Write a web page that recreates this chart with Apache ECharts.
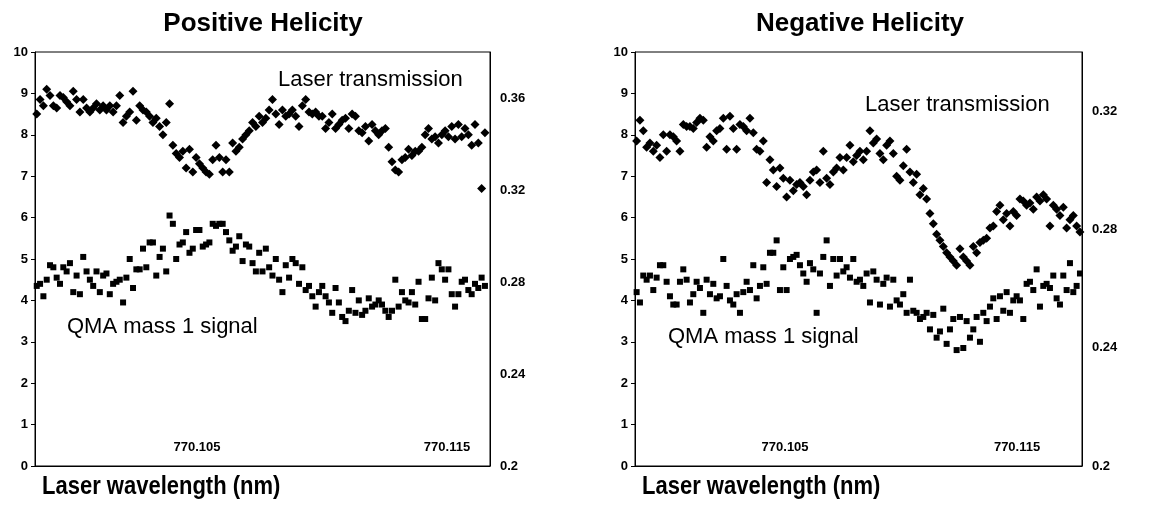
<!DOCTYPE html>
<html>
<head>
<meta charset="utf-8">
<script src="https://cdn.jsdelivr.net/npm/echarts@6/dist/echarts.min.js"></script>
<style>
  html, body { margin: 0; padding: 0; background: #fff; }
  #chart { width: 1168px; height: 505px; }
</style>
</head>
<body>
<div id="chart"></div>
<script>
// Wavelength scans (nm): first point and step of each scan
const posScanStart = 770.09859;
const posScanStep = 0.0001328;
const negScanStart = 770.09860;
const negScanStep = 0.0001437;

// Positive helicity: laser transmission (diamonds) and QMA mass 1 signal (squares)
const posLaser = [
  8.50, 8.85, 8.70, 9.10, 8.95, 8.70, 8.65, 8.95, 8.90, 8.80,
  8.70, 9.05, 8.85, 8.55, 8.85, 8.65, 8.55, 8.65, 8.75, 8.60,
  8.70, 8.60, 8.70, 8.55, 8.70, 8.95, 8.30, 8.45, 8.55, 9.05,
  8.35, 8.70, 8.60, 8.55, 8.45, 8.30, 8.40, 8.20, 8.00, 8.30,
  8.75, 7.75, 7.55, 7.45, 7.60, 7.20, 7.65, 7.10, 7.45, 7.30,
  7.20, 7.10, 7.05, 7.40, 7.75, 7.45, 7.10, 7.40, 7.10, 7.80,
  7.60, 7.70, 7.90, 8.00, 8.10, 8.30, 8.20, 8.45, 8.30, 8.40,
  8.60, 8.85, 8.50, 8.25, 8.60, 8.45, 8.50, 8.60, 8.45, 8.20,
  8.70, 8.85, 8.55, 8.50, 8.55, 8.45, 8.45, 8.15, 8.30, 8.50,
  8.15, 8.25, 8.35, 8.40, 8.15, 8.50, 8.45, 8.10, 8.05, 8.20,
  7.85, 8.25, 8.10, 8.00, 8.10, 8.15, 7.70, 7.35, 7.15, 7.10,
  7.40, 7.45, 7.65, 7.50, 7.60, 7.60, 7.70, 8.00, 8.15, 7.90,
  7.95, 7.80, 8.00, 8.10, 7.95, 8.20, 7.90, 8.25, 7.95, 8.15,
  8.00, 7.75, 8.25, 7.80, 6.70, 8.05
];
const posQMA = [
  4.35, 4.40, 4.10, 4.50, 4.85, 4.80, 4.55, 4.40, 4.80, 4.70,
  4.90, 4.20, 4.60, 4.15, 5.05, 4.70, 4.50, 4.35, 4.70, 4.20,
  4.60, 4.65, 4.15, 4.40, 4.45, 4.50, 3.95, 4.55, 5.00, 4.30,
  4.75, 4.75, 5.25, 4.80, 5.40, 5.40, 4.60, 5.05, 5.25, 4.70,
  6.05, 5.85, 5.00, 5.35, 5.40, 5.65, 5.15, 5.25, 5.70, 5.70,
  5.30, 5.35, 5.40, 5.85, 5.80, 5.85, 5.85, 5.65, 5.45, 5.20,
  5.30, 5.55, 4.95, 5.35, 5.30, 4.90, 4.70, 5.15, 4.70, 5.25,
  4.80, 4.60, 5.00, 4.50, 4.20, 4.85, 4.55, 5.00, 4.90, 4.40,
  4.80, 4.25, 4.35, 4.10, 3.85, 4.20, 4.35, 4.10, 3.95, 3.70,
  4.30, 3.95, 3.60, 3.50, 3.75, 4.25, 3.70, 4.00, 3.65, 3.75,
  4.05, 3.85, 3.90, 4.00, 3.90, 3.75, 3.60, 3.75, 4.50, 3.85,
  4.20, 4.00, 3.95, 4.20, 3.90, 4.45, 3.55, 3.55, 4.05, 4.55,
  4.00, 4.90, 4.75, 4.50, 4.75, 4.15, 3.85, 4.15, 4.45, 4.50,
  4.25, 4.15, 4.40, 4.30, 4.55, 4.35
];

// Negative helicity
const negLaser = [
  7.85, 8.35, 8.10, 7.70, 7.80, 7.60, 7.75, 7.45, 8.00, 7.60,
  8.00, 7.95, 7.85, 7.60, 8.25, 8.20, 8.20, 8.15, 8.30, 8.40,
  8.35, 7.70, 7.95, 7.85, 8.10, 8.15, 8.40, 7.65, 8.45, 8.15,
  7.65, 8.25, 8.20, 8.10, 8.40, 8.05, 7.65, 7.60, 7.85, 6.85,
  7.40, 7.15, 6.75, 7.20, 6.95, 6.50, 6.90, 6.65, 6.80, 6.85,
  6.75, 6.55, 6.90, 7.10, 7.15, 6.85, 7.60, 6.95, 6.80, 7.10,
  7.20, 7.45, 7.15, 7.45, 7.75, 7.35, 7.50, 7.60, 7.40, 7.60,
  8.10, 7.80, 7.90, 7.55, 7.40, 7.75, 7.85, 7.55, 7.00, 6.90,
  7.25, 7.65, 7.10, 6.85, 7.05, 6.55, 6.70, 6.45, 6.10, 5.85,
  5.60, 5.45, 5.30, 5.15, 5.05, 4.95, 4.85, 5.25, 5.05, 4.95,
  4.85, 5.30, 5.15, 5.40, 5.45, 5.50, 5.75, 5.80, 6.15, 6.30,
  5.95, 6.10, 5.80, 6.15, 6.05, 6.45, 6.40, 6.30, 6.35, 6.20,
  6.50, 6.40, 6.55, 6.45, 5.80, 6.30, 6.20, 6.05, 6.25, 5.75,
  5.95, 6.05, 5.80, 5.65
];
const negQMA = [
  4.20, 3.95, 4.60, 4.50, 4.60, 4.25, 4.55, 4.85, 4.85, 4.45,
  4.10, 3.90, 3.90, 4.45, 4.75, 4.50, 3.95, 4.15, 4.45, 4.30,
  3.70, 4.50, 4.15, 4.40, 4.05, 4.10, 5.00, 4.35, 4.00, 3.90,
  4.15, 3.70, 4.20, 4.45, 4.25, 4.85, 4.05, 4.35, 4.80, 4.40,
  5.15, 5.15, 5.45, 4.25, 4.80, 4.25, 5.00, 5.05, 5.10, 4.85,
  4.65, 4.45, 4.90, 4.75, 3.70, 4.65, 5.05, 5.45, 4.35, 5.00,
  4.60, 5.00, 4.70, 4.80, 4.55, 5.00, 4.45, 4.50, 4.35, 4.65,
  3.95, 4.70, 4.50, 3.90, 4.40, 4.55, 3.85, 4.50, 4.00, 3.90,
  4.15, 3.70, 4.50, 3.75, 3.70, 3.55, 3.60, 3.70, 3.30, 3.65,
  3.10, 3.25, 3.80, 2.95, 3.30, 3.55, 2.80, 3.60, 2.85, 3.50,
  3.10, 3.30, 3.60, 3.00, 3.70, 3.50, 3.85, 4.05, 3.55, 4.10,
  3.75, 4.20, 3.70, 4.00, 4.10, 4.00, 3.55, 4.40, 4.45, 4.25,
  4.75, 3.85, 4.35, 4.40, 4.30, 4.60, 4.05, 3.90, 4.60, 4.25,
  4.90, 4.20, 4.35, 4.65
];

// Tick labels
const wavelengthTicks = [770.105, 770.115];
const posRightTicks = [0.2, 0.24, 0.28, 0.32, 0.36];
const negRightTicks = [0.2, 0.24, 0.28, 0.32];

const FONT = '"Liberation Sans", Arial, Helvetica, sans-serif';
const INK = '#000';

function pairs(start, step, values) {
  return values.map((v, i) => [start + i * step, v]);
}

const tickLabelStyle = { color: INK, fontFamily: FONT, fontSize: 13, fontWeight: 'bold' };

function xAxisFor(grid, min, max) {
  return {
    gridIndex: grid, type: 'value', min: min, max: max,
    axisLine: { show: true, onZero: false, lineStyle: { color: INK, width: 1 } },
    axisTick: { show: false },
    splitLine: { show: false },
    axisLabel: Object.assign({
      inside: true, margin: 12,
      customValues: wavelengthTicks,
      formatter: v => v.toFixed(3)
    }, tickLabelStyle)
  };
}

function leftAxisFor(grid) {
  return {
    gridIndex: grid, type: 'value', min: 0, max: 10, interval: 1,
    axisLine: { show: true, lineStyle: { color: INK, width: 1 } },
    axisTick: { show: true, length: 4, lineStyle: { color: INK } },
    splitLine: { show: false },
    axisLabel: Object.assign({ margin: 7 }, tickLabelStyle)
  };
}

function rightAxisFor(grid, max, ticks) {
  return {
    gridIndex: grid, type: 'value', position: 'right', min: 0.2, max: max,
    axisLine: { show: true, lineStyle: { color: INK, width: 1 } },
    axisTick: { show: false },
    splitLine: { show: false },
    axisLabel: Object.assign({
      margin: 10, customValues: ticks,
      formatter: v => String(+v.toFixed(2))
    }, tickLabelStyle)
  };
}

function textItem(text, x, y, size, weight, align, extra) {
  return Object.assign({
    type: 'text', x: x, y: y,
    style: {
      text: text, fill: INK,
      font: weight + ' ' + size + 'px ' + FONT,
      textAlign: align, textVerticalAlign: 'middle'
    }
  }, extra || {});
}

const diamondStyle = { symbol: 'diamond', symbolSize: 9, itemStyle: { color: INK, opacity: 1 } };
const squareStyle = { symbol: 'rect', symbolSize: 6, itemStyle: { color: INK, opacity: 1 } };

const chart = echarts.init(document.getElementById('chart'), null, { renderer: 'canvas' });

chart.setOption({
  backgroundColor: '#fff',
  animation: false,
  grid: [
    { left: 35, top: 52, width: 455, height: 414, show: true, borderColor: INK, borderWidth: 1 },
    { left: 635, top: 52, width: 447, height: 414, show: true, borderColor: INK, borderWidth: 1 }
  ],
  xAxis: [
    xAxisFor(0, 770.09852, 770.11672),
    xAxisFor(1, 770.09853, 770.11780)
  ],
  yAxis: [
    leftAxisFor(0),
    rightAxisFor(0, 0.38, posRightTicks),
    leftAxisFor(1),
    rightAxisFor(1, 0.34, negRightTicks)
  ],
  series: [
    Object.assign({ type: 'scatter', name: 'Laser transmission', xAxisIndex: 0, yAxisIndex: 0,
      data: pairs(posScanStart, posScanStep, posLaser) }, diamondStyle),
    Object.assign({ type: 'scatter', name: 'QMA mass 1 signal', xAxisIndex: 0, yAxisIndex: 0,
      data: pairs(posScanStart, posScanStep, posQMA) }, squareStyle),
    Object.assign({ type: 'scatter', name: 'Laser transmission', xAxisIndex: 1, yAxisIndex: 2,
      data: pairs(negScanStart, negScanStep, negLaser) }, diamondStyle),
    Object.assign({ type: 'scatter', name: 'QMA mass 1 signal', xAxisIndex: 1, yAxisIndex: 2,
      data: pairs(negScanStart, negScanStep, negQMA) }, squareStyle)
  ],
  graphic: [
    textItem('Positive Helicity', 263, 24, 26, 'bold', 'center'),
    textItem('Negative Helicity', 860, 24, 26, 'bold', 'center'),
    textItem('Laser transmission', 278, 80, 22, 'normal', 'left'),
    textItem('QMA mass 1 signal', 67, 327, 22, 'normal', 'left'),
    textItem('Laser transmission', 865, 105, 22, 'normal', 'left'),
    textItem('QMA mass 1 signal', 668, 337, 22, 'normal', 'left'),
    textItem('Laser wavelength (nm)', 42, 487, 25, 'bold', 'left', { scaleX: 0.88, scaleY: 1 }),
    textItem('Laser wavelength (nm)', 642, 487, 25, 'bold', 'left', { scaleX: 0.88, scaleY: 1 })
  ]
});
</script>
</body>
</html>
